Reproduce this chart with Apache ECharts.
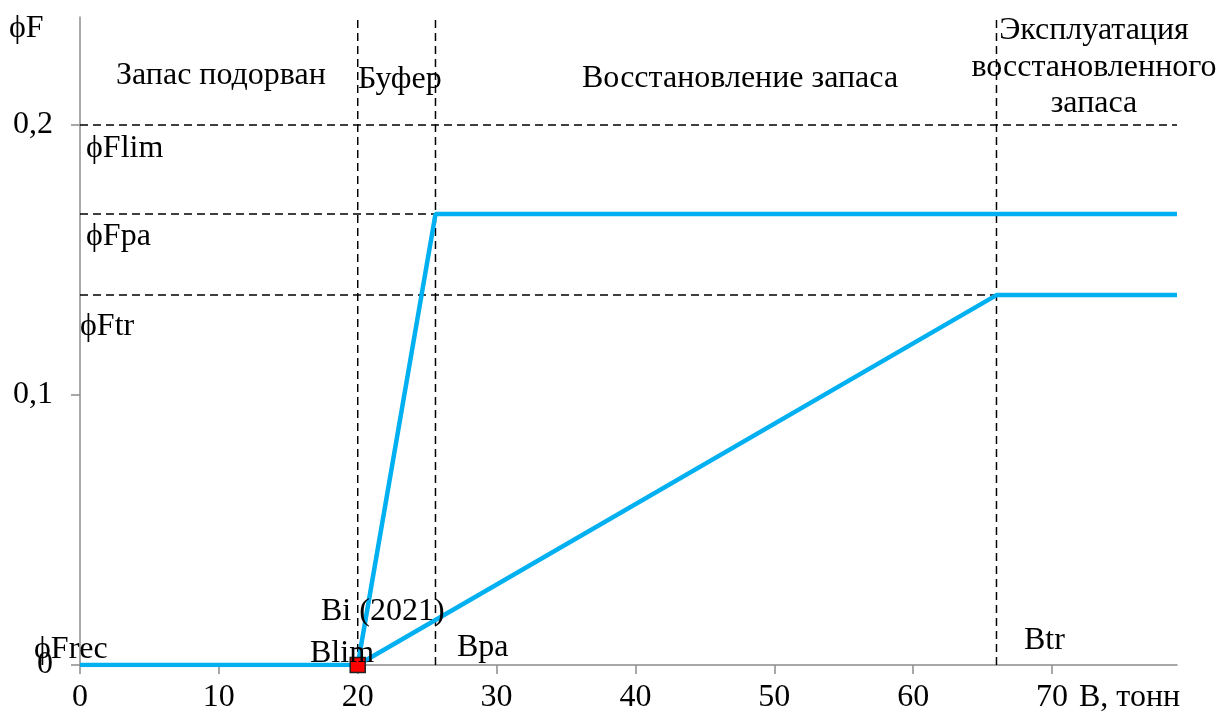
<!DOCTYPE html>
<html>
<head>
<meta charset="utf-8">
<script src="https://cdn.jsdelivr.net/npm/echarts@6/dist/echarts.min.js"></script>
<style>
html,body{margin:0;padding:0;background:#fff;}
#chart{width:1216px;height:717px;}
</style>
</head>
<body>
<div id="chart"></div>
<script>
// ---- data ----
const bRefPoints = [20, 25.6, 66];            // Blim, Bpa, Btr
const phiRefLevels = [0.2, 0.167, 0.137];      // ϕFlim, ϕFpa, ϕFtr
const upperRuleX = [0, 20, 25.6, 79];
const upperRuleY = [0, 0, 0.167, 0.167];
const lowerRuleX = [20, 66, 79];
const lowerRuleY = [0, 0.137, 0.137];
const currentStock = [[20, 0]];                // Bi (2021)
const xTickValues = [0, 10, 20, 30, 40, 50, 60, 70];
const yTickValues = [0, 0.1, 0.2];
const yTickLabels = ['0', '0,1', '0,2'];
const xMax = 79;
const yMax = 0.24;

const FONT = '"Liberation Serif", "Times New Roman", serif';
const FS = 32;
const BLUE = '#00B0F0';
const AXIS = '#8c8c8c';

function zip(xs, ys){ return xs.map((x,i)=>[x, ys[i]]); }

const dashStyle = {color:'#000', width:1.5, type:[8,5]};
const dashSeries = [];
// vertical reference lines
bRefPoints.forEach(b => {
  dashSeries.push({type:'line', data:[[b,0],[b,yMax]], symbol:'none', lineStyle:dashStyle, silent:true, z:1});
});
// horizontal reference lines: Flim across, Fpa to Bpa, Ftr to Btr
const hEnds = [xMax, bRefPoints[1], bRefPoints[2]];
phiRefLevels.forEach((f,i) => {
  dashSeries.push({type:'line', data:[[0,f],[hEnds[i],f]], symbol:'none', lineStyle:dashStyle, silent:true, z:1});
});

const chart = echarts.init(document.getElementById('chart'), null, {renderer:'canvas'});

function txt(text, x, y, align){
  return {type:'text', silent:true, z:100, style:{text:text, x:x, y:y, font: FS+'px '+FONT, fill:'#000',
    textAlign: align||'left', align: align||'left', textVerticalAlign:'middle', verticalAlign:'middle'}};
}

chart.setOption({
  animation:false,
  backgroundColor:'#fff',
  grid:{left:80, right:39, top:17, bottom:52, containLabel:false},
  xAxis:{
    type:'value', min:0, max:xMax,
    axisLine:{show:true, onZero:false, lineStyle:{color:AXIS, width:1.5}},
    axisTick:{show:true, length:9, lineStyle:{color:AXIS, width:1.5}, customValues:xTickValues},
    axisLabel:{customValues:xTickValues, margin:17, color:'#000', fontFamily:FONT, fontSize:FS},
    splitLine:{show:false}
  },
  yAxis:{
    type:'value', min:0, max:yMax,
    axisLine:{show:true, onZero:false, lineStyle:{color:AXIS, width:1.5}},
    axisTick:{show:true, length:9, lineStyle:{color:AXIS, width:1.5}, customValues:yTickValues},
    axisLabel:{customValues:yTickValues, margin:27, color:'#000', fontFamily:FONT, fontSize:FS,
      formatter:function(v){ const i = yTickValues.findIndex(t=>Math.abs(t-v)<1e-9); return i>=0 ? yTickLabels[i] : ''; }},
    splitLine:{show:false}
  },
  series: dashSeries.concat([
    {type:'line', data:zip(upperRuleX, upperRuleY), symbol:'none', lineStyle:{color:BLUE, width:4.5}, z:5},
    {type:'line', data:zip(lowerRuleX, lowerRuleY), symbol:'none', lineStyle:{color:BLUE, width:4.5}, z:5},
    {type:'scatter', data:currentStock, symbol:'rect', symbolSize:15,
      itemStyle:{color:'#ff0000', borderColor:'#222', borderWidth:1.5, opacity:1}, z:10}
  ]),
  graphic:[
    txt('ϕF', 9, 29),
    txt('Запас подорван', 116, 76),
    txt('Буфер', 358, 80),
    txt('Восстановление запаса', 582, 79),
    txt('Эксплуатация', 1094, 31, 'center'),
    txt('восстановленного', 1094, 68, 'center'),
    txt('запаса', 1094, 104, 'center'),
    txt('ϕFlim', 86, 149),
    txt('ϕFpa', 86, 237),
    txt('ϕFtr', 80, 327),
    txt('ϕFrec', 34, 650),
    txt('Blim', 310, 654),
    txt('Bi (2021)', 321, 612),
    txt('Bpa', 457, 648),
    txt('Btr', 1024, 641),
    txt('B, тонн', 1079, 698)
  ]
});
</script>
</body>
</html>
